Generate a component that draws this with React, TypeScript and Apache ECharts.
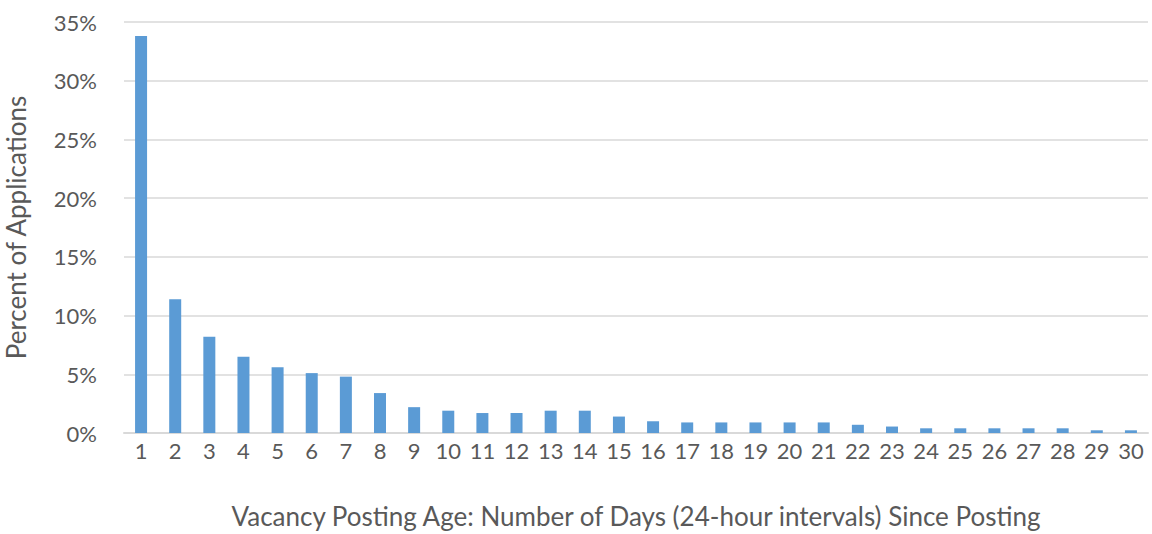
import React, { useEffect, useRef } from "react";
import * as echarts from "echarts";

const days: string[] = Array.from({ length: 30 }, (_, i) => String(i + 1));
const percentApplications: number[] = [
  33.8, 11.4, 8.2, 6.5, 5.6, 5.1, 4.8, 3.4, 2.2, 1.9,
  1.7, 1.7, 1.9, 1.9, 1.4, 1.0, 0.9, 0.9, 0.9, 0.9,
  0.9, 0.7, 0.55, 0.4, 0.4, 0.4, 0.4, 0.4, 0.23, 0.23,
];
const yTitle = "Percent of Applications";
const xTitle = "Vacancy Posting Age: Number of Days (24-hour intervals) Since Posting";

const FONT = "Lato, 'Open Sans', sans-serif";
const TEXT = "#595959";

export default function App() {
  const ref = useRef<HTMLDivElement>(null);
  useEffect(() => {
    if (!ref.current) return;
    const chart = echarts.init(ref.current, undefined, { renderer: "svg" });
    chart.setOption({
      animation: false,
      grid: { left: 124, right: 4, top: 22, bottom: 101, containLabel: false, outerBoundsMode: "none" },
      xAxis: {
        type: "category",
        data: days,
        name: xTitle,
        nameLocation: "middle",
        nameGap: 70,
        nameTextStyle: { fontFamily: FONT, fontSize: 26, color: TEXT },
        axisLine: { lineStyle: { color: "#d9d9d9", width: 2 } },
        axisTick: { show: false },
        axisLabel: { fontFamily: FONT, fontSize: 22, color: TEXT, margin: 6, interval: 0 },
      },
      yAxis: {
        type: "value",
        min: 0,
        max: 35,
        interval: 5,
        name: yTitle,
        nameLocation: "middle",
        nameGap: 95,
        nameTextStyle: { fontFamily: FONT, fontSize: 26, color: TEXT },
        axisLine: { show: false },
        axisTick: { show: false },
        axisLabel: { fontFamily: FONT, fontSize: 22, color: TEXT, margin: 27, formatter: "{value}%" },
        splitLine: { lineStyle: { color: "#d9d9d9", width: 1.5 } },
      },
      series: [
        {
          type: "bar",
          data: percentApplications,
          barWidth: 12,
          itemStyle: { color: "#5b9bd5" },
        },
      ],
    });
    return () => chart.dispose();
  }, []);
  return (
    <div
      ref={ref}
      style={{ position: "fixed", left: 0, top: 0, width: 1152, height: 534, background: "#fff" }}
    />
  );
}
